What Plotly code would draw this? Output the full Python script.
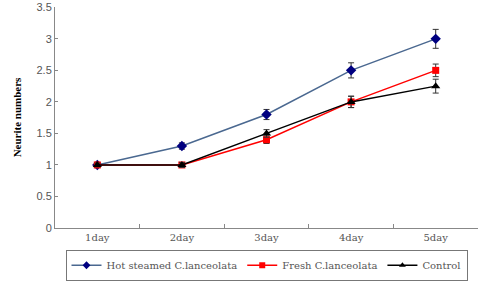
import plotly.graph_objects as go

days = ["1day", "2day", "3day", "4day", "5day"]
hot = [1.0, 1.3, 1.8, 2.5, 3.0]
hot_err = [0.03, 0.05, 0.08, 0.12, 0.15]
fresh = [1.0, 1.0, 1.4, 2.0, 2.5]
fresh_err = [0.03, 0.03, 0.06, 0.09, 0.1]
control = [1.0, 1.0, 1.5, 2.0, 2.25]
control_err = [0.03, 0.04, 0.06, 0.09, 0.11]
y_ticks = [0, 0.5, 1, 1.5, 2, 2.5, 3, 3.5]
y_labels = ["0", "0.5", "1", "1.5", "2", "2.5", "3", "3.5"]

fig = go.Figure()
series = [
    ("Hot steamed C.lanceolata", hot, hot_err, "#4a6890", "#000080", "diamond", 8, 6),
    ("Fresh C.lanceolata", fresh, fresh_err, "#ff0000", "#ff0000", "square", 7, 6),
    ("Control", control, control_err, "#000000", "#000000", "triangle-up", 8, 6),
]
for name, vals, err, lc, mc, sym, ms, lms in series:
    fig.add_trace(go.Scatter(
        x=days, y=vals, name=name, mode="lines+markers", showlegend=False,
        line=dict(color=lc, width=1.5),
        marker=dict(symbol=sym, color=mc, size=ms),
        error_y=dict(type="data", array=err, color="#333333", thickness=1, width=3),
    ))
for name, vals, err, lc, mc, sym, ms, lms in series:
    fig.add_trace(go.Scatter(
        x=[None], y=[None], name=name, mode="lines+markers",
        line=dict(color=lc, width=1.5),
        marker=dict(symbol=sym, color=mc, size=lms),
    ))

fig.update_layout(
    width=481, height=285,
    margin=dict(l=55, r=3, t=7, b=57, autoexpand=False),
    paper_bgcolor="white", plot_bgcolor="white",
    showlegend=True,
    legend=dict(
        orientation="h", x=0.5, xanchor="center",
        yref="container", y=0.015, yanchor="bottom",
        bordercolor="#777777", borderwidth=1,
        font=dict(family="DejaVu Serif", size=10, color="#555555"),
        itemwidth=30, tracegroupgap=0, entrywidth=0,
    ),
    xaxis=dict(
        type="category", range=[-0.5, 4.5], tickson="boundaries",
        ticks="inside", ticklen=4, tickcolor="#888888", automargin=False,
        showline=True, linecolor="#888888", linewidth=1,
        showgrid=False, zeroline=False,
        tickfont=dict(family="DejaVu Serif", size=10, color="#555555"),
    ),
    yaxis=dict(
        range=[0, 3.505], tickmode="array", tickvals=y_ticks, ticktext=y_labels,
        ticks="inside", ticklen=3, tickcolor="#888888", automargin=False,
        ticklabeloverflow="allow",
        showline=True, linecolor="#888888", linewidth=1,
        showgrid=False, zeroline=False,
        tickfont=dict(family="Liberation Sans", size=11, color="#555555"),
        title=dict(text="<b>Neurite numbers</b>", standoff=12,
                   font=dict(family="Liberation Serif", size=11, color="#000000")),
    ),
)

fig.write_html("out.html")
